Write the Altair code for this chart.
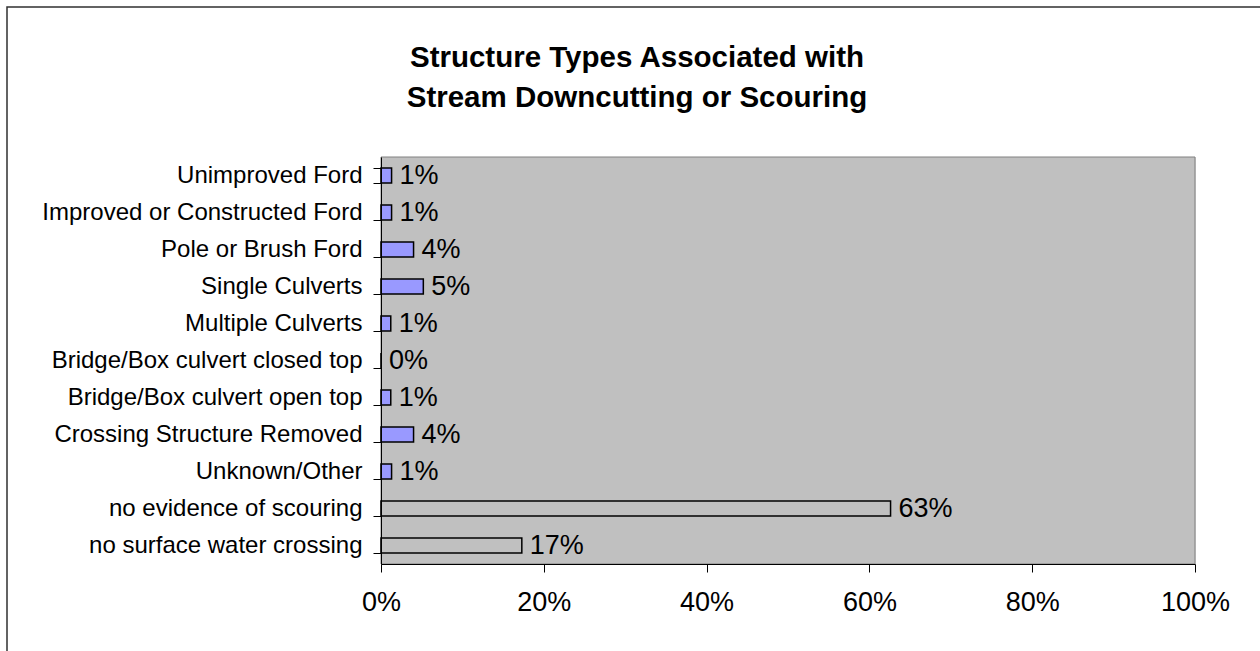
import altair as alt
import pandas as pd

categories = [
    "Unimproved Ford",
    "Improved or Constructed Ford",
    "Pole or Brush Ford",
    "Single Culverts",
    "Multiple Culverts",
    "Bridge/Box culvert closed top",
    "Bridge/Box culvert open top",
    "Crossing Structure Removed",
    "Unknown/Other",
    "no evidence of scouring",
    "no surface water crossing",
]
values = [0.013, 0.013, 0.040, 0.052, 0.012, 0.0, 0.012, 0.040, 0.013, 0.626, 0.173]
groups = ["structure"] * 9 + ["none"] * 2
x_ticks = [0, 0.2, 0.4, 0.6, 0.8, 1.0]
title_lines = ["Structure Types Associated with", "Stream Downcutting or Scouring"]

df = pd.DataFrame({"category": categories, "value": values, "group": groups})

FONT = "Liberation Sans"
W, H = 814, 407

y_enc = alt.Y(
    "category:N",
    sort=categories,
    scale=alt.Scale(paddingInner=0.6, paddingOuter=0.3),
    axis=alt.Axis(
        title=None,
        labelFont=FONT,
        labelFontSize=24,
        labelColor="black",
        labelPadding=11,
        labelLimit=500,
        tickBand="extent",
        tickSize=8,
        tickColor="black",
        domainColor="black",
        domainWidth=1,
        zindex=1,
    ),
)
x_enc = alt.X(
    "value:Q",
    scale=alt.Scale(domain=[0, 1], nice=False),
    axis=alt.Axis(
        title=None,
        format=".0%",
        values=x_ticks,
        grid=False,
        labelFont=FONT,
        labelFontSize=27,
        labelColor="black",
        labelPadding=17,
        labelFlush=False,
        tickSize=8,
        tickColor="black",
        domainColor="black",
        domainWidth=1,
        zindex=1,
    ),
)

one = pd.DataFrame({"f": [1]})

frame = alt.Chart(one).mark_rect(fill=None, stroke="#303030", strokeWidth=1.5).encode(
    x=alt.value(-374), x2=alt.value(890), y=alt.value(-150), y2=alt.value(500)
)

plot_bg = alt.Chart(one).mark_rect(fill="#C0C0C0", stroke="#808080", strokeWidth=1).encode(
    x=alt.value(0), x2=alt.value(W), y=alt.value(0), y2=alt.value(H)
)

base = alt.Chart(df)

bars = base.mark_bar(stroke="black", strokeWidth=1.5).encode(
    y=y_enc,
    x=x_enc,
    color=alt.Color(
        "group:N",
        scale=alt.Scale(domain=["structure", "none"], range=["#9999FF", "#C0C0C0"]),
        legend=None,
    ),
)

text = base.mark_text(align="left", baseline="middle", dx=8, fontSize=27, font=FONT, color="black").encode(
    y=alt.Y("category:N", sort=categories),
    x=alt.X("value:Q"),
    text=alt.Text("value:Q", format=".0%"),
)

title = alt.Chart(pd.DataFrame({"t": ["\n".join(title_lines)]})).mark_text(
    font=FONT,
    fontSize=29.5,
    fontWeight="bold",
    color="black",
    align="center",
    baseline="middle",
    lineBreak="\n",
    lineHeight=40,
).encode(x=alt.value(256), y=alt.value(-99), text="t:N")

chart = (
    alt.layer(frame, plot_bg, bars, text, title)
    .properties(
        width=W,
        height=H,
        autosize=alt.AutoSizeParams(type="none"),
        padding={"left": 381, "top": 157, "right": 65, "bottom": 87},
    )
    .configure_view(stroke=None)
    .configure(background="white")
)

chart.save("out.html", embed_options={"renderer": "svg", "actions": False})
